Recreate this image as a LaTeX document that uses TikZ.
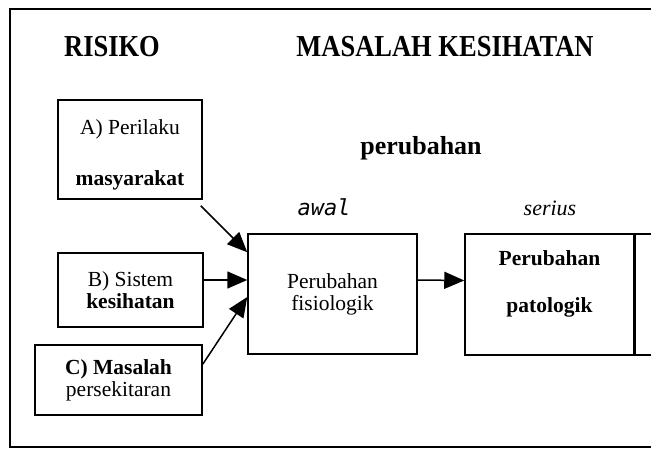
\documentclass[tikz,border=0pt]{standalone}
\usepackage{graphicx}
\usepackage{fontspec}
\setmainfont{Liberation Serif}
\newfontfamily\awalfont{DejaVu Sans Mono}
\usetikzlibrary{arrows.meta}
\tikzset{
  box/.style={draw, line width=1.5pt, align=center, inner sep=0pt,
              font=\fontsize{21.5}{22}\selectfont},
  heading/.style={font=\bfseries\fontsize{26.5}{26}\selectfont},
  link/.style={line width=1.5pt, -{Triangle[length=20pt, width=17pt]}}
}

\begin{document}
\begin{tikzpicture}[x=1pt, y=-1pt]
    \useasboundingbox (0,0) rectangle (651,449);
    % frame, open to the right
    \draw[line width=1.3pt] (700,9) -- (10,9) -- (10,447) -- (700,447);

    % headings
    \node[heading] (risiko) at (112,47) {\scalebox{1}[1.15]{RISIKO}};
    \node[heading] (masalah) at (445,47) {\scalebox{1}[1.15]{MASALAH KESIHATAN}};
    \node[heading, font=\bfseries\fontsize{26}{26}\selectfont] (perubahan) at (421,148) {perubahan};
    \node[font=\awalfont\itshape\fontsize{22}{22}\selectfont] (awal) at (324,207) {awal};
    \node[font=\itshape\fontsize{22}{22}\selectfont] (serius) at (550,208) {serius};

    % risk boxes
    \node[box, minimum width=144pt, minimum height=99pt] (perilaku) at (130,149.5)
      {\raisebox{-5pt}[\height][\depth]{A) Perilaku}\\[29pt]%
       \raisebox{-5pt}[\height][\depth]{\textbf{masyarakat}}};
    \node[box, minimum width=145pt, minimum height=74pt] (sistem) at (130.5,290)
      {B) Sistem\\\textbf{kesihatan}};
    \node[box, minimum width=167pt, minimum height=70pt] (persekitaran) at (118.5,380)
      {\textbf{C) Masalah}\\persekitaran};

    % health problem boxes
    \node[box, minimum width=169pt, minimum height=120pt] (fisio) at (332.5,294)
      {Perubahan\\fisiologik};
    \node[box, minimum width=169pt, minimum height=121pt, font=\bfseries\fontsize{21.5}{22}\selectfont]
      (pato) at (549.5,294.5) {Perubahan\\[25pt]patologik\\[4pt]\mbox{}};
    \node[box, minimum width=60pt, minimum height=121pt, anchor=west] (lanjut) at (pato.east) {};

    % arrows
    \draw[link] ([shift={(-2pt,-6pt)}]perilaku.south east) -- ([yshift=-19pt]fisio.north west);
    \draw[link] ([yshift=10pt]sistem.east) -- ([yshift=14pt]fisio.west);
    \draw[link] ([yshift=-20pt]persekitaran.north east) -- ([yshift=-3pt]fisio.west);
    \draw[link] ([yshift=14pt]fisio.east) -- ([yshift=14pt]pato.west);
\end{tikzpicture}
\end{document}
